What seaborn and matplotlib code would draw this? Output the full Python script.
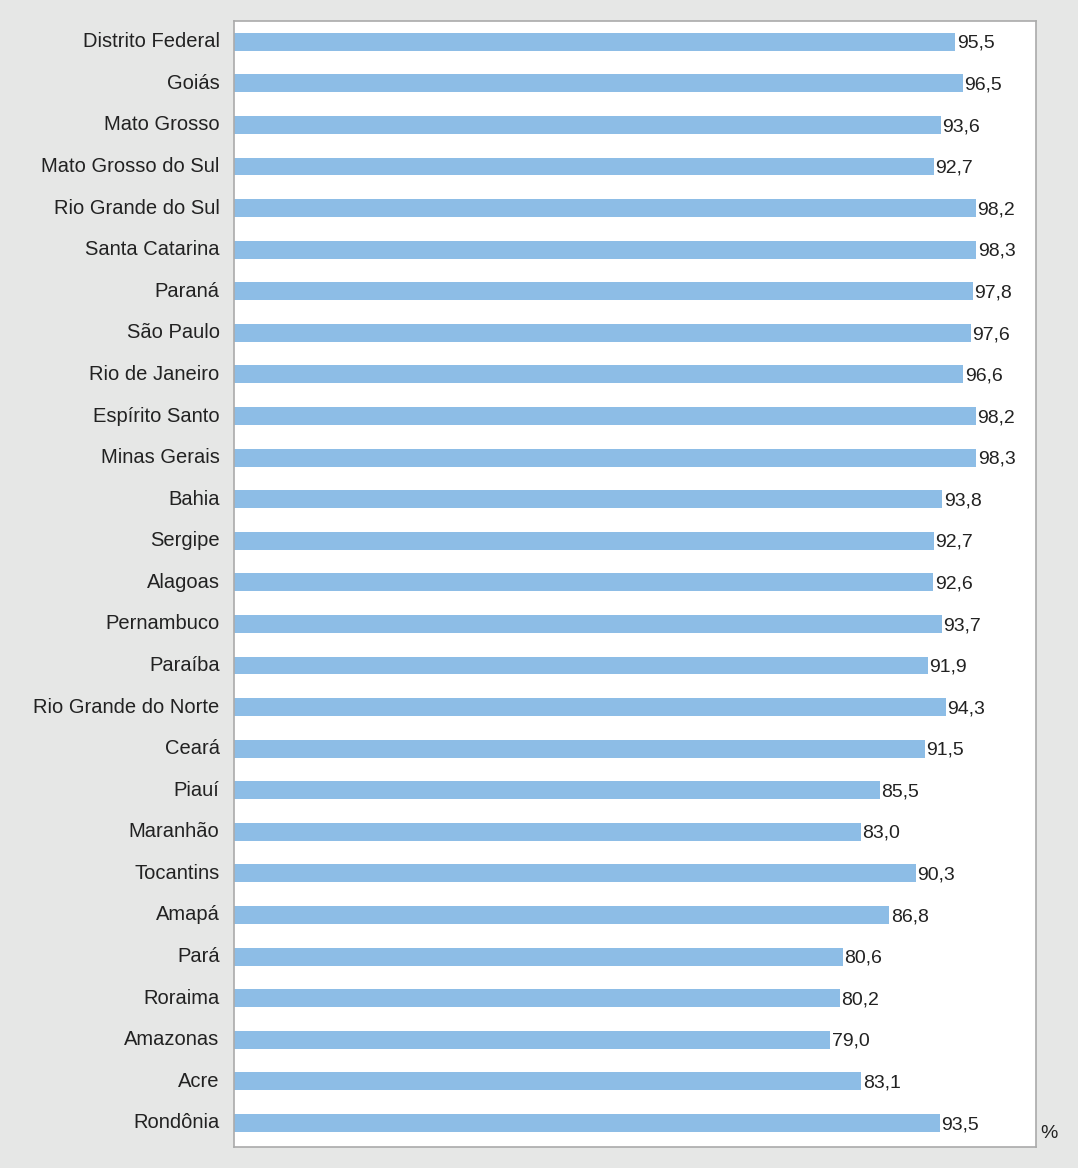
import matplotlib
matplotlib.use("Agg")
import matplotlib.pyplot as plt
import matplotlib.transforms as mtransforms
import seaborn as sns
import pandas as pd

states = ["Distrito Federal", "Goiás", "Mato Grosso", "Mato Grosso do Sul",
          "Rio Grande do Sul", "Santa Catarina", "Paraná", "São Paulo",
          "Rio de Janeiro", "Espírito Santo", "Minas Gerais", "Bahia", "Sergipe",
          "Alagoas", "Pernambuco", "Paraíba", "Rio Grande do Norte", "Ceará",
          "Piauí", "Maranhão", "Tocantins", "Amapá", "Pará", "Roraima",
          "Amazonas", "Acre", "Rondônia"]
values = [95.5, 96.5, 93.6, 92.7, 98.2, 98.3, 97.8, 97.6, 96.6, 98.2, 98.3,
          93.8, 92.7, 92.6, 93.7, 91.9, 94.3, 91.5, 85.5, 83.0, 90.3, 86.8,
          80.6, 80.2, 79.0, 83.1, 93.5]
unit_label = "%"

df = pd.DataFrame({"state": states, "value": values})

sns.set_style("white")
plt.rcParams["font.family"] = ["Liberation Sans", "DejaVu Sans"]

bg = "#e6e7e6"
fig = plt.figure(figsize=(10.78, 11.68), dpi=100, facecolor=bg)
ax = fig.add_axes([233.5 / 1078, 1 - 1147 / 1168, (1036 - 233.5) / 1078, (1147 - 21) / 1168])
ax.set_facecolor("white")

sns.barplot(data=df, x="value", y="state", orient="h", color="#8dbde6",
            saturation=1, width=0.43, linewidth=0, ax=ax)

for i, v in enumerate(values):
    ax.text(v + 0.2, i + 0.04, f"{v:.1f}".replace(".", ","), va="center", ha="left",
            fontsize=14, color="#222222")

ax.set_xlim(0, 106.2)
ax.set_ylim(26.58, -0.5)
ax.set_xlabel("")
ax.set_ylabel("")
ax.set_xticks([])
ax.tick_params(axis="y", length=0, pad=10, labelsize=14.5, labelcolor="#222222")
offset = mtransforms.ScaledTranslation(0, 2 / 100, fig.dpi_scale_trans)
for lbl in ax.get_yticklabels():
    lbl.set_transform(lbl.get_transform() + offset)
for s in ax.spines.values():
    s.set_color("#aaaaaa")
    s.set_linewidth(1.2)

fig.text(1040 / 1078, 1 - 1134 / 1168, unit_label, fontsize=14, color="#222222",
         ha="left", va="center")

fig.savefig("out.png", dpi=100, facecolor=bg)
